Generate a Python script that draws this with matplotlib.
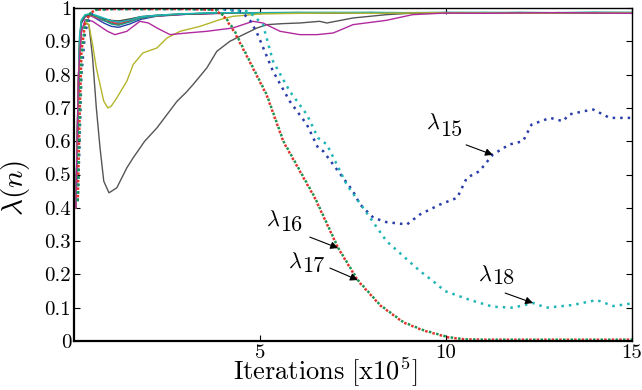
import matplotlib
matplotlib.use('Agg')
import matplotlib.pyplot as plt

plt.rcParams['mathtext.fontset'] = 'cm'
plt.rcParams['font.family'] = 'serif'
plt.rcParams['font.serif'] = ['cmr10', 'DejaVu Serif']
plt.rcParams['axes.formatter.use_mathtext'] = True

# iterations [x10^5] for the bundle of converging (solid) curves
bx = [0.05, 0.1, 0.15, 0.2, 0.3, 0.45, 0.6, 0.8, 1.0, 1.2, 1.5, 1.8, 2.2, 2.6,
      3.0, 3.5, 4.0, 5.0, 6.0, 7.0, 8.0, 9.0, 10.0, 11.0, 12.0, 13.0, 14.0, 15.0]
bundle = {
    '#2b3da8': [0.40, 0.62, 0.88, 0.955, 0.975, 0.978, 0.968, 0.955, 0.945, 0.942, 0.952, 0.966, 0.975, 0.978,
                0.981, 0.983, 0.984, 0.985, 0.986, 0.985, 0.986, 0.984, 0.986, 0.985, 0.984, 0.986, 0.985, 0.986],
    '#1e9450': [0.41, 0.66, 0.90, 0.960, 0.978, 0.980, 0.972, 0.962, 0.955, 0.952, 0.960, 0.972, 0.977, 0.980,
                0.982, 0.984, 0.985, 0.986, 0.985, 0.986, 0.985, 0.986, 0.985, 0.986, 0.986, 0.985, 0.986, 0.985],
    '#e2332b': [0.40, 0.68, 0.91, 0.962, 0.976, 0.979, 0.974, 0.966, 0.958, 0.950, 0.962, 0.970, 0.976, 0.979,
                0.982, 0.983, 0.985, 0.984, 0.986, 0.985, 0.984, 0.986, 0.985, 0.984, 0.986, 0.985, 0.984, 0.985],
    '#b2279f': [0.40, 0.64, 0.89, 0.958, 0.974, 0.976, 0.970, 0.963, 0.960, 0.957, 0.964, 0.972, 0.976, 0.979,
                0.981, 0.983, 0.984, 0.985, 0.984, 0.985, 0.986, 0.985, 0.984, 0.985, 0.986, 0.984, 0.985, 0.984],
    '#b3b32a': [0.41, 0.65, 0.89, 0.957, 0.977, 0.979, 0.973, 0.965, 0.962, 0.960, 0.966, 0.973, 0.977, 0.980,
                0.982, 0.984, 0.985, 0.984, 0.985, 0.986, 0.985, 0.984, 0.986, 0.985, 0.985, 0.986, 0.984, 0.985],
    '#444444': [0.40, 0.63, 0.88, 0.956, 0.976, 0.980, 0.975, 0.967, 0.963, 0.961, 0.967, 0.974, 0.978, 0.980,
                0.982, 0.983, 0.985, 0.986, 0.985, 0.984, 0.986, 0.985, 0.985, 0.986, 0.984, 0.985, 0.986, 0.985],
    '#1a9a8a': [0.41, 0.67, 0.90, 0.962, 0.979, 0.983, 0.976, 0.963, 0.952, 0.948, 0.958, 0.970, 0.976, 0.980,
                0.982, 0.984, 0.986, 0.986, 0.987, 0.986, 0.987, 0.986, 0.987, 0.986, 0.987, 0.986, 0.987, 0.987],
    '#1fb5b5': [0.42, 0.70, 0.92, 0.965, 0.980, 0.982, 0.978, 0.970, 0.962, 0.958, 0.964, 0.974, 0.978, 0.981,
                0.983, 0.985, 0.986, 0.985, 0.986, 0.987, 0.986, 0.985, 0.986, 0.987, 0.985, 0.986, 0.987, 0.986],
}

# slow solid curves
gray_x = [0.05, 0.12, 0.2, 0.3, 0.4, 0.5, 0.6, 0.7, 0.8, 0.94, 1.15, 1.42, 1.59, 1.9, 2.23, 2.5, 2.77, 3.0, 3.2,
          3.57, 3.84, 4.19, 4.55, 4.92, 5.19, 5.6, 6.07, 6.6, 6.8, 7.5, 8.4, 9.0, 10, 11, 12, 13, 14, 15]
gray_y = [0.40, 0.80, 0.93, 0.955, 0.95, 0.85, 0.70, 0.58, 0.48, 0.445, 0.46, 0.52, 0.55, 0.60, 0.64, 0.68, 0.72,
          0.745, 0.77, 0.82, 0.87, 0.90, 0.92, 0.94, 0.95, 0.953, 0.955, 0.96, 0.955, 0.97, 0.98, 0.984, 0.985,
          0.984, 0.985, 0.986, 0.985, 0.984]
olive_x = [0.05, 0.12, 0.2, 0.3, 0.4, 0.5, 0.6, 0.7, 0.8, 0.91, 1.0, 1.15, 1.42, 1.59, 1.85, 2.23, 2.5, 2.85, 3.39,
           3.92, 4.27, 5.0, 6.0, 7.0, 8.0, 9.0, 10, 11, 12, 13, 14, 15]
olive_y = [0.40, 0.80, 0.93, 0.958, 0.95, 0.89, 0.82, 0.77, 0.72, 0.70, 0.705, 0.73, 0.78, 0.83, 0.865, 0.88, 0.91,
           0.93, 0.945, 0.965, 0.975, 0.982, 0.984, 0.985, 0.984, 0.985, 0.986, 0.985, 0.984, 0.985, 0.986, 0.985]
mag_x = [0.05, 0.12, 0.2, 0.3, 0.5, 0.7, 0.9, 1.1, 1.42, 1.77, 2.0, 2.23, 2.58, 3.04, 3.57, 4.27, 4.81, 5.08, 5.54,
         6.07, 6.53, 6.97, 7.5, 8.4, 9.1, 10, 11, 12, 13, 14, 15]
mag_y = [0.40, 0.80, 0.93, 0.965, 0.96, 0.945, 0.93, 0.92, 0.93, 0.96, 0.955, 0.94, 0.92, 0.925, 0.93, 0.94, 0.96,
         0.955, 0.93, 0.92, 0.92, 0.925, 0.95, 0.963, 0.98, 0.985, 0.984, 0.985, 0.986, 0.985, 0.984]

# dotted curves (lambda_15 .. lambda_18)
l15_x = [0.1, 0.15, 0.2, 0.3, 0.45, 0.6, 1.0, 2.0, 3.0, 4.0, 4.5, 4.75, 4.92, 5.35, 5.8, 6.26, 6.56, 6.7, 7.5, 7.69,
         8.05, 8.4, 8.95, 9.3, 9.84, 10.3, 10.56, 10.9, 11.26, 11.7, 12.07, 12.3, 12.8, 13.15, 13.3, 13.7, 13.96,
         14.4, 15.0]
l15_y = [0.42, 0.6, 0.8, 0.93, 0.98, 0.995, 0.997, 0.997, 0.997, 0.996, 0.99, 0.96, 0.925, 0.81, 0.72, 0.65, 0.58,
         0.57, 0.45, 0.41, 0.37, 0.357, 0.35, 0.38, 0.41, 0.43, 0.49, 0.51, 0.56, 0.59, 0.60, 0.65, 0.67, 0.66,
         0.68, 0.69, 0.695, 0.67, 0.67]
l18_x = [0.1, 0.15, 0.2, 0.3, 0.45, 0.6, 1.0, 2.0, 3.0, 4.0, 4.7, 5.08, 5.35, 5.8, 6.26, 6.56, 6.8, 7.33, 7.96, 8.4,
         8.7, 9.3, 9.65, 9.97, 10.65, 11.26, 11.8, 12.34, 12.7, 13.4, 14.05, 14.5, 15.0]
l18_y = [0.42, 0.65, 0.85, 0.95, 0.985, 0.995, 0.997, 0.997, 0.997, 0.997, 0.99, 0.95, 0.84, 0.75, 0.68, 0.61, 0.59,
         0.47, 0.37, 0.30, 0.27, 0.21, 0.18, 0.15, 0.123, 0.103, 0.10, 0.114, 0.10, 0.108, 0.123, 0.105, 0.113]
l1617_x = [0.1, 0.15, 0.2, 0.3, 0.45, 0.6, 1.0, 2.0, 3.0, 3.8, 4.05, 4.3, 4.68, 5.18, 5.63, 6.48, 7.1, 7.63, 8.23,
           8.85, 9.38, 10.05, 10.5, 11.0, 12.0, 13.0, 14.0, 15.0]
l16_y = [0.42, 0.66, 0.86, 0.95, 0.985, 0.995, 0.997, 0.997, 0.997, 0.995, 0.975, 0.935, 0.85, 0.74, 0.60, 0.43,
         0.28, 0.183, 0.108, 0.057, 0.033, 0.012, 0.005, 0.004, 0.004, 0.004, 0.004, 0.004]
l17_y = [0.42, 0.67, 0.87, 0.955, 0.986, 0.995, 0.997, 0.997, 0.997, 0.994, 0.972, 0.93, 0.848, 0.738, 0.598, 0.428,
         0.279, 0.181, 0.107, 0.056, 0.032, 0.011, 0.005, 0.004, 0.004, 0.004, 0.004, 0.004]

yticks = [0, 0.1, 0.2, 0.3, 0.4, 0.5, 0.6, 0.7, 0.8, 0.9, 1.0]
ytick_labels = ['0', '0.1', '0.2', '0.3', '0.4', '0.5', '0.6', '0.7', '0.8', '0.9', '1']
xticks = [5, 10, 15]
xtick_labels = ['5', '10', '15']

fig = plt.figure(figsize=(6.42, 3.90), dpi=100)
ax = fig.add_axes([74 / 642, 49 / 390, 558 / 642, 333 / 390])

for col, vals in bundle.items():
    ax.plot(bx, vals, color=col, lw=1.0)
ax.plot(gray_x, gray_y, color='#555555', lw=1.0)
ax.plot(olive_x, olive_y, color='#b5b52c', lw=1.0)
ax.plot(mag_x, mag_y, color='#b02a9e', lw=1.0)

dots = (0, (1, 2))
ax.plot(l15_x, l15_y, color='#2b3da8', lw=1.8, ls=dots)
ax.plot(l18_x, l18_y, color='#20b5b5', lw=1.8, ls=dots)
ax.plot(l1617_x, l16_y, color='#1e9450', lw=1.8, ls=dots)
ax.plot(l1617_x, l17_y, color='#e2332b', lw=1.8, ls=(1.5, (1, 2)))

ax.set_xlim(0, 15)
ax.set_ylim(0, 1.0)
ax.set_yticks(yticks)
ax.set_yticklabels(ytick_labels)
ax.set_xticks(xticks)
ax.set_xticklabels(xtick_labels)
ax.tick_params(direction='in', top=True, right=True, length=4, labelsize=15)
ax.tick_params(axis='y', pad=2)
ax.tick_params(axis='x', pad=2)
for side in ['left', 'bottom']:
    ax.spines[side].set_linewidth(1.6)
for side in ['top', 'right']:
    ax.spines[side].set_linewidth(1.0)

ax.set_xlabel(r'$\mathrm{Iterations\ [x10^5]}$', fontsize=19)
ax.xaxis.set_label_coords(0.45, -0.042)
ax.set_ylabel(r'$\lambda(n)$', fontsize=21)
ax.yaxis.set_label_coords(-0.076, 0.46)

# annotations: (digits, join x, lambda y, digits y, arrow tail, arrow head)
notes = [
    ('15', 9.84, 0.655, 0.634, (10.54, 0.589), (11.26, 0.559)),
    ('16', 5.54, 0.363, 0.348, (6.34, 0.312), (7.10, 0.279)),
    ('17', 6.13, 0.237, 0.225, (6.88, 0.219), (7.63, 0.183)),
    ('18', 11.24, 0.198, 0.189, (11.59, 0.144), (12.34, 0.114)),
]
for num, xj, ylam, ynum, tail, head in notes:
    ax.text(xj, ylam, r'$\lambda$', fontsize=16, ha='right', va='center')
    ax.text(xj, ynum, num, fontsize=16, ha='left', va='center')
    ax.annotate('', xy=head, xytext=tail,
                arrowprops=dict(arrowstyle='-|>', color='black', lw=0.8,
                                mutation_scale=11, shrinkA=0, shrinkB=0))

fig.savefig('out.png', dpi=100)
